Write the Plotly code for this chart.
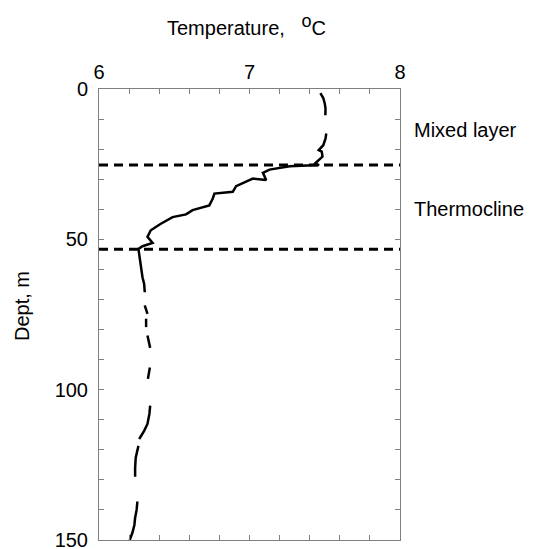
import plotly.graph_objects as go

# Temperature profile (None = gap in record)
depth = [1.4, 3.0, 4.8, 6.5, 8.7, None,
         14.8, 16.5, 18.7, 20.3, 20.8, 22.5, 24.7,
         25.3, 25.7, 26.8, 27.9, 30.3, 29.8, 31.4, 32.3, 34.2, 34.8, 36.4, 38.7,
         40.3, 41.7, 42.6, 44.8, 47.0, 49.2, 51.2, 52.3, 53.2,
         57.0, 60.0, 62.6, 64.8, 67.6, None,
         72.0, 74.8, None,
         76.4, 79.2, None,
         82.0, 84.0, 86.1, None,
         92.6, 94.5, 96.4, None,
         105.3, 108.0, 111.4, 113.7, 116.4, None,
         118.7, 122.6, 126.0, 129.0, None,
         137.2, 140.0, 142.6, 145.0, 147.6, 150.0]
temp = [7.471, 7.49, 7.50, 7.505, 7.504, None,
        7.51, 7.505, 7.49, 7.46, 7.48, 7.485, 7.437,
        7.462, 7.267, 7.133, 7.089, 7.111, 7.022, 6.956, 6.911, 6.889, 6.767, 6.756, 6.733,
        6.622, 6.578, 6.489, 6.411, 6.344, 6.322, 6.356, 6.289, 6.262,
        6.271, 6.28, 6.289, 6.30, 6.304, None,
        6.304, 6.322, None,
        6.313, 6.313, None,
        6.322, 6.33, 6.34, None,
        6.338, 6.33, 6.325, None,
        6.34, 6.335, 6.322, 6.30, 6.267, None,
        6.262, 6.244, 6.24, 6.24, None,
        6.255, 6.25, 6.24, 6.235, 6.222, 6.204]

layer_bounds = [25.3, 53.3]
layer_names = ["Mixed layer", "Thermocline"]
layer_label_depths = [13.7, 40.0]

x_range = [6, 8]
x_ticks = [6, 7, 8]
y_ticks = [0, 50, 100, 150]

FONT = "Liberation Sans, Arial, sans-serif"
GRAY = "#808080"
W, H = 544, 549
ML, MR, MT, MB = 99, 144, 89, 9
plot_w = W - ML - MR
plot_h = H - MT - MB

fig = go.Figure()
for b in layer_bounds:
    fig.add_trace(go.Scatter(x=x_range, y=[b, b], mode="lines",
                             line=dict(color="black", width=3, dash="9px,6px"),
                             hoverinfo="skip", showlegend=False))
fig.add_trace(go.Scatter(x=temp, y=depth, mode="lines", connectgaps=False,
                         line=dict(color="black", width=2.5), showlegend=False))

for name, d in zip(layer_names, layer_label_depths):
    fig.add_annotation(x=1 + 12 / plot_w, xref="paper", y=d, yref="y", text=name,
                       showarrow=False, xanchor="left", yanchor="middle",
                       font=dict(size=20, color="black", family=FONT))

# axis titles
fig.add_annotation(x=(246 - ML) / plot_w, xref="paper", y=1 + (MT - 25) / plot_h, yref="paper",
                   text="Temperature,&nbsp;&nbsp;&nbsp;<sup><span style='font-size:18px'>o</span></sup>C",
                   showarrow=False, xanchor="center", yanchor="middle",
                   font=dict(size=20, color="black", family=FONT))
fig.add_annotation(x=-(ML - 22) / plot_w, xref="paper", y=1 - (306 - MT) / plot_h, yref="paper",
                   text="Dept, m", textangle=-90, showarrow=False,
                   xanchor="center", yanchor="middle",
                   font=dict(size=20, color="black", family=FONT))

fig.update_layout(
    width=W, height=H,
    margin=dict(l=ML, r=MR, t=MT, b=MB),
    plot_bgcolor="white", paper_bgcolor="white",
    font=dict(family=FONT, size=20, color="black"),
    xaxis=dict(side="top", range=x_range, tickvals=x_ticks, ticks="inside",
               ticklen=5, tickcolor=GRAY, showline=True, linecolor=GRAY,
               linewidth=1, mirror="ticks", showgrid=False, zeroline=False,
               automargin=False, ticklabelstandoff=1, ticklabeloverflow="allow",
               minor=dict(dtick=0.2, ticks="inside", ticklen=5, tickcolor=GRAY, showgrid=False)),
    yaxis=dict(range=[150, 0], tickvals=y_ticks, ticks="inside",
               ticklen=5, tickcolor=GRAY, showline=True, linecolor=GRAY,
               linewidth=1, mirror="ticks", showgrid=False, zeroline=False,
               automargin=False, ticklabelstandoff=6, ticklabeloverflow="allow",
               minor=dict(dtick=10, ticks="inside", ticklen=5, tickcolor=GRAY, showgrid=False)),
)

fig.write_html("out.html", config={"displayModeBar": False},
               post_script="document.body.style.margin='0';document.body.style.overflow='hidden';")
